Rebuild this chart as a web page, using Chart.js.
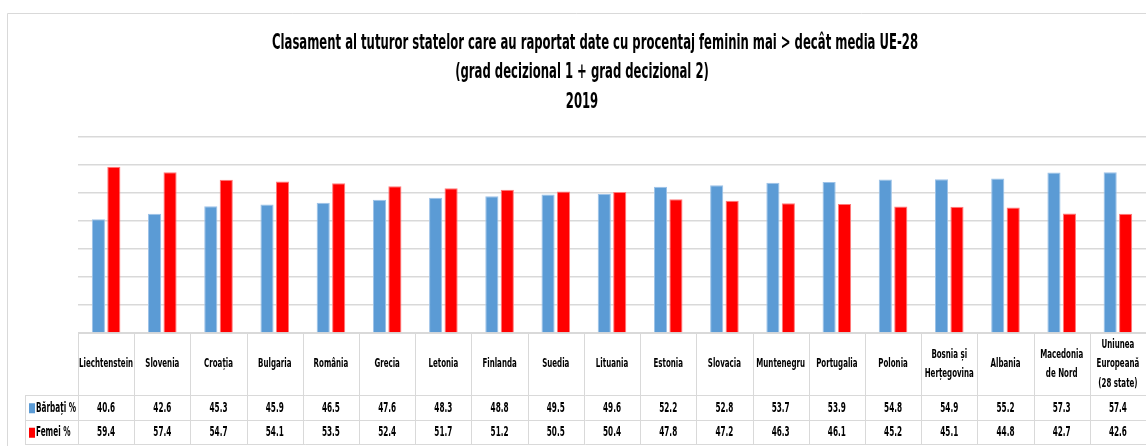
<!DOCTYPE html>
<html>
<head>
<meta charset="utf-8">
<script src="https://cdn.jsdelivr.net/npm/chart.js@4.4.0/dist/chart.umd.min.js"></script>
<style>
  html, body { margin: 0; padding: 0; background: #fff; }
  canvas { display: block; }
</style>
</head>
<body>
<canvas id="result" width="1146" height="446"></canvas>
<script>
"use strict";
// data
const titleLines = [
  "Clasament al tuturor statelor care au raportat date cu procentaj feminin mai > decât media UE-28",
  "(grad decizional 1 + grad decizional 2)",
  "2019",
];
const categories = [
  "Liechtenstein", "Slovenia", "Croația", "Bulgaria", "România", "Grecia",
  "Letonia", "Finlanda", "Suedia", "Lituania", "Estonia", "Slovacia",
  "Muntenegru", "Portugalia", "Polonia", ["Bosnia și", "Herțegovina"],
  "Albania", ["Macedonia", "de Nord"], ["Uniunea", "Europeană", "(28 state)"],
];
const seriesNames = ["Bărbați %", "Femei %"];
const barbati = [40.6, 42.6, 45.3, 45.9, 46.5, 47.6, 48.3, 48.8, 49.5, 49.6, 52.2, 52.8, 53.7, 53.9, 54.8, 54.9, 55.2, 57.3, 57.4];
const femei = [59.4, 57.4, 54.7, 54.1, 53.5, 52.4, 51.7, 51.2, 50.5, 50.4, 47.8, 47.2, 46.3, 46.1, 45.2, 45.1, 44.8, 42.7, 42.6];
const yMin = 0;
const yMax = 70;
const yStep = 10;

const seriesColors = ["#5b9bd5", "#ff0000"];
const FONT = "'Liberation Sans Narrow', 'DejaVu Sans Condensed', 'Liberation Sans', sans-serif";
const LINE = "#d9d9d9";

// draws text squeezed horizontally, like the narrow Excel font
function squeezed(ctx, text, x, y, sx) {
  ctx.save();
  ctx.translate(x, y);
  ctx.scale(sx, 1);
  ctx.fillText(text, 0, 0);
  ctx.restore();
}

function fitScale(ctx, font, sample, width) {
  ctx.font = font;
  return Math.min(1, width / ctx.measureText(sample).width);
}

const tablePlugin = {
  id: "table",
  beforeDraw(chart) {
    const ctx = chart.ctx;
    ctx.save();
    ctx.fillStyle = "#fff";
    ctx.fillRect(0, 0, chart.width, chart.height);
    // chart frame
    ctx.strokeStyle = LINE;
    ctx.lineWidth = 1;
    ctx.beginPath();
    ctx.moveTo(7.5, chart.height);
    ctx.lineTo(7.5, 13.5);
    ctx.lineTo(chart.width, 13.5);
    ctx.stroke();
    ctx.restore();
  },
  afterDraw(chart) {
    const ctx = chart.ctx;
    const area = chart.chartArea;
    const xs = chart.scales.x;
    ctx.save();
    ctx.fillStyle = "#000";

    // title
    const titleFont = "bold 22px " + FONT;
    const ts = fitScale(ctx, titleFont, titleLines[0], 646);
    ctx.font = titleFont;
    ctx.textAlign = "center";
    ctx.textBaseline = "middle";
    const titleX = [595, 582, 582];
    titleLines.forEach((t, i) => squeezed(ctx, t, titleX[i], 43 + i * 29.5, ts));

    // data table
    const colW = xs.getPixelForValue(1) - xs.getPixelForValue(0);
    const top = area.bottom;
    const catBottom = top + 63;
    const rowH = 24.5;
    const tableBottom = catBottom + rowH * 2;
    const leftX = 25;

    ctx.strokeStyle = LINE;
    ctx.lineWidth = 1;
    ctx.beginPath();
    ctx.moveTo(area.left, top + 0.5);
    ctx.lineTo(chart.width, top + 0.5);
    for (let r = 0; r <= 2; r++) {
      const y = Math.round(catBottom + r * rowH) - 0.5;
      ctx.moveTo(leftX, y);
      ctx.lineTo(chart.width, y);
    }
    ctx.moveTo(leftX + 0.5, catBottom);
    ctx.lineTo(leftX + 0.5, tableBottom);
    for (let i = 0; i <= categories.length; i++) {
      const x = Math.round(xs.getPixelForValue(i) - colW / 2) + 0.5;
      ctx.moveTo(x, top);
      ctx.lineTo(x, tableBottom);
    }
    ctx.stroke();

    // category labels
    const catFont = "bold 13px " + FONT;
    const cs = fitScale(ctx, catFont, "Liechtenstein", 54);
    ctx.font = catFont;
    ctx.textAlign = "center";
    ctx.textBaseline = "middle";
    const catMid = top + 31;
    categories.forEach((c, i) => {
      const lines = Array.isArray(c) ? c : [c];
      const x = xs.getPixelForValue(i);
      lines.forEach((l, k) => {
        const y = catMid + (k - (lines.length - 1) / 2) * 19.5;
        squeezed(ctx, l, x, y, cs);
      });
    });

    // value rows
    const valFont = "bold 14px " + FONT;
    const vs = fitScale(ctx, valFont, "40.6", 18);
    const ls = fitScale(ctx, valFont, seriesNames[0], 40);
    const rows = [barbati, femei];
    rows.forEach((vals, r) => {
      const y = catBottom + rowH * r + rowH / 2;
      ctx.font = valFont;
      ctx.textAlign = "center";
      vals.forEach((v, i) => {
        squeezed(ctx, v.toFixed(1), xs.getPixelForValue(i), y, vs);
      });
      // legend key
      ctx.fillStyle = seriesColors[r];
      ctx.fillRect(29, y - 5, 6, 10);
      ctx.fillStyle = "#000";
      ctx.textAlign = "left";
      squeezed(ctx, seriesNames[r], 36, y, ls);
    });
    ctx.restore();
  },
};

new Chart("result", {
  type: "bar",
  data: {
    labels: categories,
    datasets: [
      {
        label: seriesNames[0],
        data: barbati,
        backgroundColor: seriesColors[0],
        borderColor: "#9cc2e8",
        borderWidth: 1,
        categoryPercentage: 0.55,
        barPercentage: 0.85,
      },
      {
        label: seriesNames[1],
        data: femei,
        backgroundColor: seriesColors[1],
        borderColor: "#ff7a7a",
        borderWidth: 1,
        categoryPercentage: 0.55,
        barPercentage: 0.85,
      },
    ],
  },
  options: {
    responsive: false,
    animation: false,
    devicePixelRatio: 1,
    layout: { padding: { left: 78, right: 0, top: 137, bottom: 113 } },
    plugins: {
      legend: { display: false },
      title: { display: false },
      tooltip: { enabled: false },
    },
    scales: {
      x: {
        display: false,
        offset: true,
      },
      y: {
        min: yMin,
        max: yMax,
        ticks: { display: false, stepSize: yStep },
        grid: { color: LINE, lineWidth: 1.5, drawTicks: false },
        border: { display: false },
        afterFit(scale) { scale.width = 0; },
      },
    },
  },
  plugins: [tablePlugin],
});
</script>
</body>
</html>
